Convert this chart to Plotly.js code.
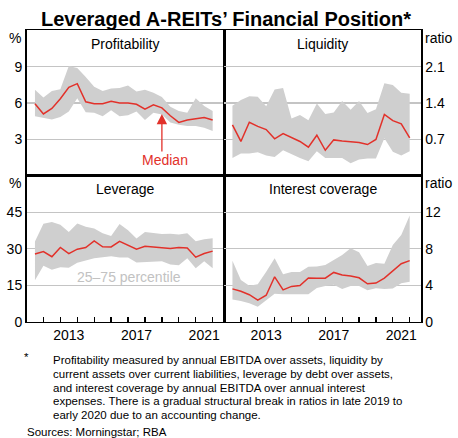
<!DOCTYPE html>
<html>
<head>
<meta charset="utf-8">
<script src="https://cdn.plot.ly/plotly-3.0.1.min.js"></script>
<style>html,body{margin:0;padding:0;background:#fff}#chart{width:458px;height:438px}</style>
</head>
<body>
<div id="chart"></div>
<script>
// Half-yearly observations (Jun / Dec), in decimal years
const periods = [2011.5, 2012.0, 2012.5, 2013.0, 2013.5, 2014.0, 2014.5, 2015.0, 2015.5, 2016.0, 2016.5,
                 2017.0, 2017.5, 2018.0, 2018.5, 2019.0, 2019.5, 2020.0, 2020.5, 2021.0, 2021.5, 2022.0];

// Profitability (%)
const profMedian = [5.95, 5.1, 5.55, 6.35, 7.3, 7.6, 6.1, 5.95, 5.95, 6.15, 6.0, 6.0, 5.9, 5.5, 5.85, 5.6, 4.95, 4.4, 4.6, 4.7, 4.8, 4.6];
const profP75    = [7.1, 6.45, 7.0, 7.15, 9.05, 8.9, 8.15, 7.35, 7.0, 7.2, 7.25, 7.45, 6.95, 7.1, 6.85, 6.5, 5.7, 5.35, 5.2, 6.4, 5.75, 5.35];
const profP25    = [4.9, 4.75, 4.65, 4.85, 5.3, 6.4, 5.25, 5.2, 4.9, 5.4, 4.9, 5.0, 5.3, 4.6, 5.2, 5.05, 4.4, 4.2, 4.1, 4.1, 3.95, 3.7];

// Liquidity (ratio)
const liqMedian = [0.98, 0.66, 1.03, 0.95, 0.89, 0.71, 0.81, 0.73, 0.66, 0.55, 0.78, 0.49, 0.69, 0.67, 0.66, 0.64, 0.6, 0.7, 1.18, 1.06, 1.0, 0.73];
const liqP75    = [1.35, 1.46, 1.53, 1.52, 1.34, 1.66, 1.69, 1.1, 1.17, 1.07, 1.39, 1.19, 1.22, 1.44, 1.27, 1.44, 1.21, 1.28, 1.78, 1.75, 1.6, 1.58];
const liqP25    = [0.34, 0.43, 0.43, 0.45, 0.39, 0.36, 0.49, 0.41, 0.34, 0.28, 0.47, 0.34, 0.34, 0.34, 0.24, 0.31, 0.33, 0.33, 0.72, 0.46, 0.39, 0.47];

// Leverage (%)
const levMedian = [27.8, 28.8, 26.7, 30.5, 28.0, 29.8, 30.5, 33.2, 30.8, 30.7, 33.0, 31.5, 29.8, 31.0, 30.6, 30.3, 30.1, 30.5, 30.3, 26.5, 28.0, 29.0];
const levP75    = [33.0, 40.3, 41.0, 39.8, 36.9, 40.4, 39.0, 38.3, 36.4, 35.2, 40.1, 37.6, 34.2, 36.9, 36.5, 36.0, 36.1, 35.8, 36.3, 33.1, 33.9, 34.3];
const levP25    = [17.0, 23.0, 21.4, 22.4, 22.2, 24.2, 25.2, 26.1, 26.5, 26.9, 26.4, 26.4, 24.3, 24.4, 24.6, 24.8, 23.5, 23.2, 26.1, 22.0, 24.8, 22.0];

// Interest coverage (ratio)
const icMedian = [3.6, 3.34, 2.96, 2.37, 2.9, 4.92, 3.49, 3.87, 3.96, 4.79, 4.77, 4.77, 5.4, 5.13, 5.01, 4.81, 4.16, 4.23, 4.77, 5.52, 6.35, 6.69];
const icP75    = [6.68, 4.58, 3.95, 4.1, 5.47, 6.95, 5.21, 5.45, 5.45, 6.02, 6.05, 6.21, 6.75, 7.31, 8.05, 7.62, 6.1, 6.42, 6.35, 8.41, 9.5, 11.65];
const icP25    = [2.42, 2.27, 2.02, 1.65, 2.35, 3.05, 3.0, 3.0, 3.08, 3.0, 3.68, 3.92, 4.05, 3.58, 3.92, 3.9, 3.45, 3.67, 3.58, 3.65, 4.22, 4.37];

// Axis ticks / labels
const yearTicks = [2012, 2013, 2014, 2015, 2016, 2017, 2018, 2019, 2020, 2021, 2022];
const yearLabelPos = [2013.5, 2017.5, 2021.5];
const yearLabels = ['2013', '2017', '2021'];
const profTicks = [3, 6, 9];
const liqTicks = [0.7, 1.4, 2.1];
const levTicks = [0, 15, 30, 45];
const icTicks = [0, 4, 8, 12];

const W = 458, H = 438;
const RED = '#e2312a', BAND = '#cfcfcf', GRID = '#c4c4c4';
const FONT = 'Liberation Sans, Arial, sans-serif';
const px = v => v / W;
const py = v => 1 - v / H;

function panel(xa, ya, p25, p75, med) {
  return [
    {x: periods, y: p25, xaxis: xa, yaxis: ya, type: 'scatter', mode: 'lines',
     line: {width: 0, color: BAND}, hoverinfo: 'skip', showlegend: false},
    {x: periods, y: p75, xaxis: xa, yaxis: ya, type: 'scatter', mode: 'lines',
     line: {width: 0, color: BAND}, fill: 'tonexty', fillcolor: BAND, hoverinfo: 'skip', showlegend: false},
    {x: periods, y: med, xaxis: xa, yaxis: ya, type: 'scatter', mode: 'lines',
     line: {width: 1.5, color: RED}, showlegend: false}
  ];
}

const data = [].concat(
  panel('x', 'y', profP25, profP75, profMedian),
  panel('x2', 'y2', liqP25, liqP75, liqMedian),
  panel('x3', 'y3', levP25, levP75, levMedian),
  panel('x4', 'y4', icP25, icP75, icMedian)
);

const xL = [26.5 / W, 224 / W], xR = [224 / W, 421 / W];
const yT = [1 - 175.7 / H, 1 - 30.4 / H], yB = [1 - 321.7 / H, 1 - 175.7 / H];
const XR = [2011, 2022.67];

function xTop(dom, anchor) {
  return {domain: dom, anchor: anchor, range: XR, showgrid: false, zeroline: false,
          showline: true, mirror: true, linecolor: '#000', linewidth: 1.5,
          ticks: '', showticklabels: false, fixedrange: true};
}
function xBot(dom, anchor) {
  return {domain: dom, anchor: anchor, range: XR, showgrid: false, zeroline: false,
          showline: true, mirror: true, linecolor: '#000', linewidth: 1.5,
          tickmode: 'array', tickvals: yearLabelPos, ticktext: yearLabels, ticks: '',
          tickfont: {family: FONT, size: 14, color: '#000'},
          minor: {tickmode: 'array', tickvals: yearTicks, ticks: 'inside', ticklen: 5, tickwidth: 1.3, tickcolor: '#000', showgrid: false},
          fixedrange: true};
}
function yAx(dom, anchor, side, range, tv, tt) {
  return {domain: dom, anchor: anchor, side: side, range: range, tickmode: 'array', tickvals: tv, ticktext: tt,
          showgrid: true, gridcolor: GRID, gridwidth: 1.3, zeroline: false,
          showline: true, mirror: true, linecolor: '#000', linewidth: 1.5, ticks: '',
          tickfont: {family: FONT, size: 14, color: '#000'}, fixedrange: true};
}

const ann = [];
function txt(text, x, y, opts) {
  ann.push(Object.assign({text: text, xref: 'paper', yref: 'paper', x: px(x), y: py(y),
    xanchor: 'center', yanchor: 'middle', showarrow: false,
    font: {family: FONT, size: 14, color: '#000'}}, opts || {}));
}
txt('<b>Leveraged A-REITs’ Financial Position*</b>', 226, 19, {font: {family: FONT, size: 20, color: '#000'}});
txt('Profitability', 125.25, 44);
txt('Liquidity', 322.5, 44);
txt('Leverage', 125.25, 188.5);
txt('Interest coverage', 322.5, 188.5);
txt('%', 15, 38);
txt('%', 15, 183);
txt('ratio', 423, 38, {xanchor: 'left'});
txt('ratio', 423, 183, {xanchor: 'left'});
txt('25–75 percentile', 129.3, 276.7, {font: {family: FONT, size: 14, color: '#c2c2c2'}});
txt('Median', 165, 160, {font: {family: FONT, size: 14, color: RED}});
ann.push({text: '', xref: 'x', yref: 'y', x: 2019.0, y: 5.1, ax: 0, ay: 39, showarrow: true,
          arrowhead: 2, arrowsize: 1.6, arrowwidth: 1.3, arrowcolor: RED});

const FN = {family: FONT, size: 11.5, color: '#000'};
txt('*', 26.7, 357, {font: FN});
const footLines = [
  'Profitability measured by annual EBITDA over assets, liquidity by',
  'current assets over current liabilities, leverage by debt over assets,',
  'and interest coverage by annual EBITDA over annual interest',
  'expenses. There is a gradual structural break in ratios in late 2019 to',
  'early 2020 due to an accounting change.'
];
footLines.forEach((t, i) => txt(t, 50.5, 360 + i * 13.75, {xanchor: 'left', font: FN}));
txt('Sources: Morningstar; RBA', 25, 431.5, {xanchor: 'left', font: FN});

const layout = {
  width: W, height: H, margin: {l: 0, r: 0, t: 0, b: 0},
  paper_bgcolor: '#fff', plot_bgcolor: '#fff', showlegend: false,
  font: {family: FONT, size: 14, color: '#000'},
  xaxis: xTop(xL, 'y'), yaxis: yAx(yT, 'x', 'left', [0, 12], profTicks, ['3', '6', '9']),
  xaxis2: xTop(xR, 'y2'), yaxis2: yAx(yT, 'x2', 'right', [0, 2.8], liqTicks, ['0.7', '1.4', '2.1']),
  xaxis3: xBot(xL, 'y3'), yaxis3: yAx(yB, 'x3', 'left', [0, 60], levTicks, ['0', '15', '30', '45']),
  xaxis4: xBot(xR, 'y4'), yaxis4: yAx(yB, 'x4', 'right', [0, 16], icTicks, ['0', '4', '8', '12']),
  annotations: ann
};

Plotly.newPlot('chart', data, layout, {staticPlot: true, displayModeBar: false});
</script>
</body>
</html>
